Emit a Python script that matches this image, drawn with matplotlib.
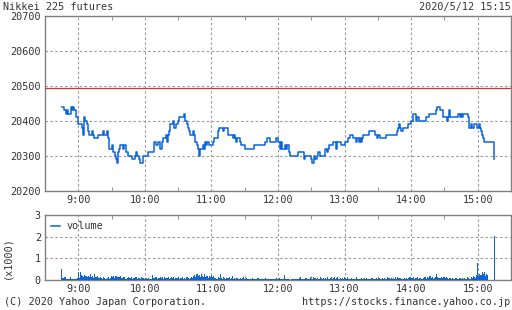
import matplotlib
matplotlib.use("Agg")
import matplotlib.pyplot as plt
from matplotlib.lines import Line2D

# ---------------- data ----------------
title_left = "Nikkei 225 futures"
title_right = "2020/5/12 15:15"
footer_left = "(C) 2020 Yahoo Japan Corporation."
footer_right = "https://stocks.finance.yahoo.co.jp"

price_ticks = [20200, 20300, 20400, 20500, 20600, 20700]
vol_ticks = [0, 1, 2, 3]
hour_ticks = ["9:00", "10:00", "11:00", "12:00", "13:00", "14:00", "15:00"]
prev_close = 20495

price_times = [
    "8:45", "8:47", "8:49", "8:50", "8:51", "8:53", "8:54", "8:55", "8:56", "8:58",
    "9:00", "9:03", "9:04", "9:05", "9:06", "9:08", "9:09", "9:10", "9:12", "9:13",
    "9:14", "9:18", "9:22", "9:23", "9:26", "9:27", "9:28", "9:30", "9:31", "9:33",
    "9:34", "9:35", "9:36", "9:37", "9:38", "9:40", "9:41", "9:43", "9:45", "9:48",
    "9:51", "9:52", "9:53", "9:55", "9:56", "9:58", "10:03", "10:08", "10:10", "10:12",
    "10:14", "10:15", "10:16", "10:19", "10:20", "10:21", "10:22", "10:23", "10:25", "10:26",
    "10:28", "10:30", "10:31", "10:35", "10:36", "10:38", "10:39", "10:40", "10:41", "10:43",
    "10:44", "10:45", "10:47", "10:48", "10:49", "10:50", "10:52", "10:53", "10:54", "10:55",
    "10:56", "10:58", "11:01", "11:02", "11:06", "11:07", "11:10", "11:11", "11:15", "11:19",
    "11:20", "11:21", "11:22", "11:23", "11:26", "11:27", "11:30", "11:38", "11:48", "11:50",
    "11:53", "11:58", "12:00", "12:02", "12:03", "12:04", "12:06", "12:07", "12:08", "12:10",
    "12:11", "12:18", "12:23", "12:24", "12:30", "12:31", "12:32", "12:33", "12:35", "12:36",
    "12:38", "12:42", "12:44", "12:45", "12:46", "12:50", "12:52", "12:53", "12:57", "13:00",
    "13:03", "13:05", "13:08", "13:10", "13:11", "13:13", "13:14", "13:15", "13:16", "13:17",
    "13:22", "13:27", "13:29", "13:30", "13:32", "13:37", "13:47", "13:48", "13:49", "13:50",
    "13:51", "13:53", "13:57", "14:00", "14:02", "14:04", "14:05", "14:07", "14:13", "14:16",
    "14:22", "14:23", "14:26", "14:29", "14:32", "14:33", "14:34", "14:35", "14:42", "14:44",
    "14:45", "14:46", "14:47", "14:51", "14:52", "14:54", "14:55", "14:57", "14:59", "15:01",
    "15:02", "15:03", "15:04", "15:05", "15:06", "15:15",
]
price_values = [
    20440, 20430, 20420, 20430, 20420, 20440, 20430, 20440, 20430, 20410,
    20390, 20380, 20360, 20410, 20400, 20390, 20370, 20360, 20370, 20360,
    20350, 20360, 20370, 20360, 20370, 20350, 20320, 20330, 20310, 20300,
    20290, 20280, 20310, 20320, 20330, 20320, 20330, 20310, 20300, 20290,
    20300, 20310, 20300, 20290, 20280, 20300, 20310, 20340, 20330, 20340,
    20320, 20340, 20350, 20360, 20340, 20360, 20370, 20390, 20400, 20380,
    20390, 20400, 20410, 20420, 20400, 20390, 20380, 20370, 20360, 20370,
    20360, 20340, 20330, 20320, 20300, 20320, 20330, 20320, 20340, 20330,
    20340, 20330, 20340, 20350, 20370, 20380, 20370, 20380, 20360, 20350,
    20360, 20350, 20340, 20350, 20340, 20330, 20320, 20330, 20340, 20350,
    20340, 20350, 20340, 20320, 20340, 20320, 20330, 20320, 20330, 20310,
    20300, 20310, 20290, 20300, 20290, 20280, 20300, 20290, 20300, 20310,
    20300, 20320, 20310, 20320, 20330, 20340, 20320, 20340, 20330, 20340,
    20350, 20360, 20350, 20340, 20350, 20340, 20350, 20340, 20350, 20360,
    20370, 20360, 20350, 20360, 20350, 20360, 20370, 20380, 20390, 20380,
    20370, 20380, 20390, 20400, 20420, 20400, 20410, 20400, 20410, 20420,
    20430, 20440, 20430, 20410, 20400, 20410, 20430, 20410, 20420, 20410,
    20420, 20410, 20420, 20410, 20380, 20390, 20380, 20390, 20380, 20390,
    20380, 20370, 20360, 20350, 20340, 20290,
]

volume_start = "8:45"  # one value per minute, in thousands
volume_values = [
    0.50, 0.10, 0.07, 0.15, 0.06, 0.04, 0.05, 0.03, 0.14, 0.04, 0.05, 0.06, 0.04, 0.05, 0.08,
    0.38, 0.10, 0.35, 0.25, 0.20, 0.15, 0.22, 0.18, 0.12, 0.20, 0.15, 0.28, 0.12, 0.18, 0.10,
    0.30, 0.12, 0.18, 0.10, 0.08, 0.15, 0.10, 0.06, 0.12, 0.08, 0.05, 0.10, 0.14, 0.06, 0.08,
    0.20, 0.15, 0.18, 0.10, 0.20, 0.16, 0.14, 0.12, 0.18, 0.10, 0.08, 0.15, 0.12, 0.06, 0.10,
    0.14, 0.08, 0.10, 0.12, 0.06, 0.10, 0.08, 0.12, 0.05, 0.10, 0.08, 0.06, 0.12, 0.08, 0.10,
    0.06, 0.10, 0.05, 0.08, 0.06, 0.05, 0.04, 0.25, 0.10, 0.08, 0.12, 0.06, 0.10, 0.08, 0.15,
    0.08, 0.12, 0.06, 0.14, 0.10, 0.08, 0.16, 0.06, 0.10, 0.12, 0.08, 0.15, 0.06, 0.10, 0.08,
    0.12, 0.06, 0.10, 0.08, 0.14, 0.06, 0.10, 0.05, 0.12, 0.08, 0.06, 0.10, 0.12, 0.08, 0.18,
    0.22, 0.15, 0.30, 0.18, 0.25, 0.12, 0.30, 0.20, 0.15, 0.28, 0.12, 0.18, 0.10, 0.20, 0.15,
    0.25, 0.12, 0.20, 0.08, 0.10, 0.06, 0.12, 0.08, 0.30, 0.10, 0.06, 0.12, 0.08, 0.06, 0.10,
    0.08, 0.12, 0.05, 0.08, 0.20, 0.06, 0.10, 0.05, 0.08, 0.06, 0.04, 0.10, 0.05, 0.08, 0.12,
    0.06, 0.04, 0.08, 0.05, 0.06, 0.03, 0.05, 0.08, 0.04, 0.06, 0.05, 0.03, 0.10, 0.05, 0.06,
    0.04, 0.06, 0.03, 0.05, 0.10, 0.04, 0.05, 0.06, 0.03, 0.05, 0.04, 0.06, 0.03, 0.05, 0.08,
    0.05, 0.08, 0.04, 0.06, 0.05, 0.03, 0.22, 0.06, 0.04, 0.03, 0.05, 0.02, 0.04, 0.06, 0.03,
    0.05, 0.03, 0.06, 0.04, 0.08, 0.15, 0.04, 0.06, 0.05, 0.03, 0.08, 0.10, 0.06, 0.05, 0.15,
    0.06, 0.05, 0.12, 0.10, 0.08, 0.06, 0.10, 0.05, 0.12, 0.08, 0.06, 0.10, 0.05, 0.08, 0.06,
    0.12, 0.06, 0.10, 0.15, 0.05, 0.08, 0.12, 0.06, 0.10, 0.14, 0.05, 0.08, 0.04, 0.10, 0.06,
    0.15, 0.10, 0.05, 0.12, 0.06, 0.04, 0.08, 0.05, 0.06, 0.04, 0.06, 0.12, 0.05, 0.04, 0.06,
    0.10, 0.06, 0.04, 0.08, 0.05, 0.10, 0.06, 0.04, 0.05, 0.08, 0.10, 0.04, 0.06, 0.05, 0.08,
    0.05, 0.10, 0.04, 0.06, 0.10, 0.05, 0.08, 0.04, 0.06, 0.12, 0.08, 0.05, 0.10, 0.06, 0.08,
    0.06, 0.12, 0.06, 0.15, 0.10, 0.08, 0.05, 0.06, 0.04, 0.08, 0.05, 0.10, 0.06, 0.08, 0.15,
    0.10, 0.08, 0.12, 0.05, 0.10, 0.08, 0.14, 0.06, 0.10, 0.05, 0.04, 0.08, 0.12, 0.15, 0.06,
    0.15, 0.10, 0.18, 0.08, 0.12, 0.06, 0.10, 0.15, 0.30, 0.12, 0.10, 0.08, 0.15, 0.10, 0.12,
    0.14, 0.10, 0.12, 0.08, 0.06, 0.10, 0.05, 0.08, 0.06, 0.04, 0.10, 0.08, 0.05, 0.06, 0.10,
    0.05, 0.08, 0.04, 0.10, 0.06, 0.05, 0.12, 0.08, 0.06, 0.15, 0.10, 0.20, 0.15, 0.10, 0.25,
    0.80, 0.20, 0.30, 0.25, 0.35, 0.30, 0.35, 0.20, 0.30, 0.25, 0.00, 0.00, 0.00, 0.00, 0.00,
    2.05,
]


def to_min(s):
    h, m = s.split(":")
    return int(h) * 60 + int(m)


px = [to_min(t) for t in price_times]
v0 = to_min(volume_start)
vx = [v0 + i for i in range(len(volume_values))]
hour_pos = [to_min(t) for t in hour_ticks]
half_pos = [p + 30 for p in [to_min("8:00")] + hour_pos]
xmin, xmax = to_min("8:30"), to_min("15:30")

# ---------------- style ----------------
FONT = ["DejaVu Sans Mono"]
FS = 7.3
TXT = "#333333"
SPINE = "#808080"
GRID = "#999999"
BLUE = "#0a64dc"
RED = "#cc3333"
plt.rcParams["font.family"] = FONT

fig = plt.figure(figsize=(5.12, 3.10), dpi=100)
W, H = 512, 310


def axes_px(left, top, right, bottom):
    return fig.add_axes([left / W, 1 - bottom / H, (right - left) / W, (bottom - top) / H])


ax = axes_px(45, 16, 511, 190.7)
axv = axes_px(45, 215, 511, 280)

for a in (ax, axv):
    for sp in a.spines.values():
        sp.set_color(SPINE)
        sp.set_linewidth(1.0)
    a.set_xlim(xmin, xmax)
    a.set_xticks(hour_pos)
    a.set_xticks(half_pos, minor=True)
    a.set_xticklabels(hour_ticks)
    a.tick_params(axis="x", which="major", length=0, pad=3, labelsize=FS, labelcolor=TXT)
    a.tick_params(axis="x", which="minor", direction="in", length=3, top=True, bottom=True,
                  color=SPINE)
    a.tick_params(axis="y", length=0, pad=3, labelsize=FS, labelcolor=TXT)
    a.grid(True, which="major", color=GRID, linestyle=(0, (2.2, 2.2)), linewidth=0.8)
    a.set_axisbelow(True)

# price
ax.set_ylim(20200, 20700)
ax.set_yticks(price_ticks)
ax.axhline(prev_close, color=RED, linewidth=0.9, zorder=3)
ax.plot(px, price_values, drawstyle="steps-post", color=BLUE, linewidth=1.1, zorder=4)

# volume
axv.set_ylim(0, 3)
axv.set_yticks(vol_ticks)
axv.bar(vx, volume_values, width=1.0, color=BLUE, linewidth=0, align="center",
        antialiased=False, zorder=3)
leg = axv.legend(handles=[Line2D([0], [0], color=BLUE, linewidth=1.1)], labels=["volume"],
                 loc="upper left", frameon=False, fontsize=FS, handlelength=0.9,
                 handletextpad=0.6, borderaxespad=0.2, labelcolor=TXT)

# texts
fig.text(3 / W, 1 - 7 / H, title_left, ha="left", va="center", fontsize=FS, color=TXT)
fig.text(511 / W, 1 - 7 / H, title_right, ha="right", va="center", fontsize=FS, color=TXT)
fig.text(4 / W, 1 - 302 / H, footer_left, ha="left", va="center", fontsize=FS, color=TXT)
fig.text(510 / W, 1 - 302 / H, footer_right, ha="right", va="center", fontsize=FS, color=TXT)
fig.text(7 / W, 1 - 258 / H, "(x1000)", ha="center", va="center", rotation=90,
         fontsize=FS, color=TXT)

fig.savefig("out.png", dpi=100)
